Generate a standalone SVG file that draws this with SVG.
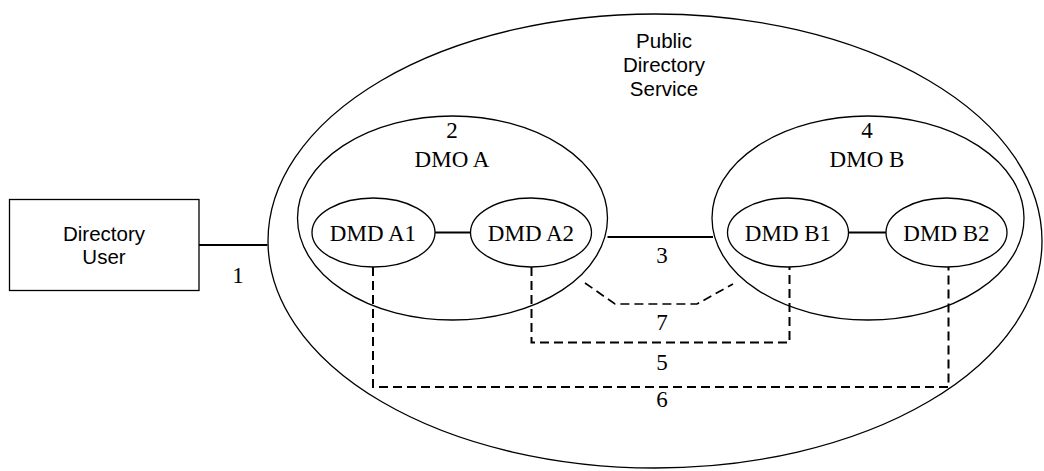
<svg xmlns="http://www.w3.org/2000/svg" width="1044" height="471" viewBox="0 0 1044 471">
<style>
.shape{fill:#fff;stroke:#000;stroke-width:1.3}
.solid{fill:none;stroke:#000;stroke-width:2.2}
.dash{fill:none;stroke:#000;stroke-width:2;stroke-dasharray:9 5}
.dashthin{fill:none;stroke:#000;stroke-width:1.7;stroke-dasharray:9 5}
.sans{font-family:"Liberation Sans",Arial,sans-serif;font-size:20.5px;text-anchor:middle;fill:#000}
.serif{font-family:"Liberation Serif","Times New Roman",serif;font-size:23px;text-anchor:middle;fill:#000}
</style>
<rect width="1044" height="471" fill="#fff"/>
<g id="public-directory-service">
<ellipse class="shape" cx="655" cy="241" rx="387" ry="227"/>
<text class="sans" x="664" y="48">Public</text>
<text class="sans" x="664" y="72">Directory</text>
<text class="sans" x="664" y="96">Service</text>
</g>
<g id="directory-user">
<rect class="shape" x="9.5" y="199.5" width="189.5" height="91"/>
<text class="sans" x="104" y="241">Directory</text>
<text class="sans" x="104" y="264">User</text>
</g>
<g id="dmo-a">
<ellipse class="shape" cx="452.5" cy="218" rx="155" ry="102"/>
<text class="serif" x="452" y="138">2</text>
<text class="serif" x="452" y="167">DMO A</text>
</g>
<g id="dmo-b">
<ellipse class="shape" cx="868" cy="218" rx="156" ry="102"/>
<text class="serif" x="867" y="138">4</text>
<text class="serif" x="867" y="167">DMO B</text>
</g>
<g id="dmd-a1">
<ellipse class="shape" cx="373.5" cy="232.5" rx="61.5" ry="34.5"/>
<text class="serif" x="373" y="241">DMD A1</text>
</g>
<g id="dmd-a2">
<ellipse class="shape" cx="531" cy="232.5" rx="60.5" ry="34.5"/>
<text class="serif" x="531" y="241">DMD A2</text>
</g>
<g id="dmd-b1">
<ellipse class="shape" cx="788" cy="232.5" rx="60.5" ry="34.5"/>
<text class="serif" x="788" y="241">DMD B1</text>
</g>
<g id="dmd-b2">
<ellipse class="shape" cx="946.5" cy="232.5" rx="60.5" ry="34.5"/>
<text class="serif" x="946.5" y="241">DMD B2</text>
</g>
<g id="connectors">
<line class="solid" x1="199" y1="245" x2="267.5" y2="245"/>
<line class="solid" x1="435" y1="232.5" x2="470.5" y2="232.5"/>
<line class="solid" x1="848.5" y1="232.5" x2="886" y2="232.5"/>
<line class="solid" x1="607.5" y1="237" x2="713" y2="237"/>
<polyline class="dash" points="373,267 373,387 948.5,387 948.5,267"/>
<polyline class="dash" points="531.5,267 531.5,342.5 789.5,342.5 789.5,267"/>
<polyline class="dashthin" points="585,283 615,304 697,304 733,284"/>
<text class="serif" x="238" y="283">1</text>
<text class="serif" x="662" y="263">3</text>
<text class="serif" x="662" y="330">7</text>
<text class="serif" x="662" y="370">5</text>
<text class="serif" x="662" y="407">6</text>
</g>
</svg>
